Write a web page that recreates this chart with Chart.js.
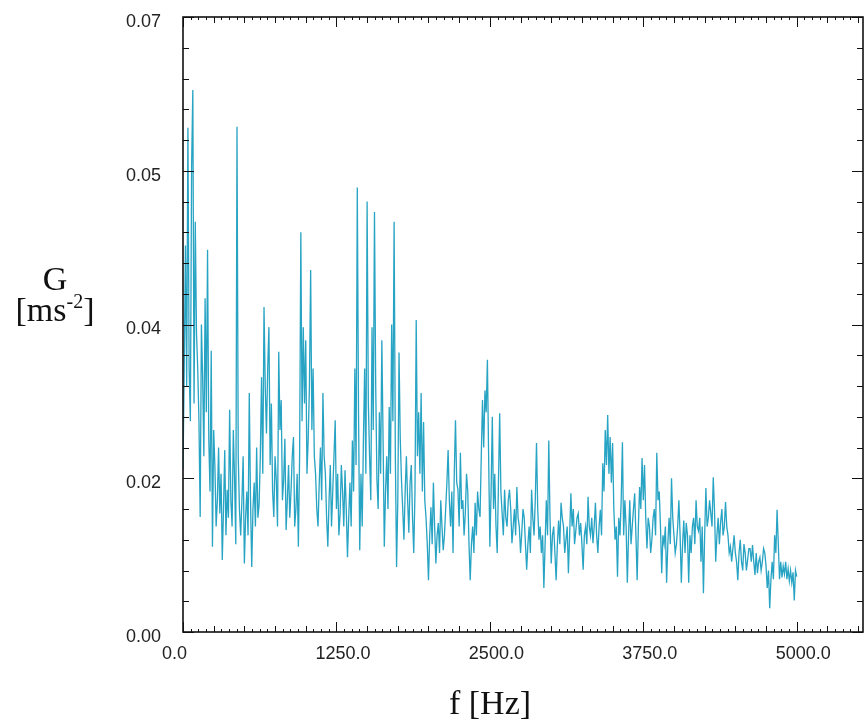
<!DOCTYPE html>
<html>
<head>
<meta charset="utf-8">
<script src="https://cdn.jsdelivr.net/npm/chart.js@4.4.1/dist/chart.umd.min.js"></script>
<style>
    html, body { margin: 0; padding: 0; background: #fff; }
    #wrap { position: relative; width: 865px; height: 723px; overflow: hidden; }
    #spectrum { position: absolute; left: 0; top: 0; }
    .ttl { position: absolute; font-family: "Liberation Serif", "Times New Roman", serif; font-size: 34px; line-height: 34px; color: #111; white-space: nowrap; }
    .ttl sup { font-size: 20px; vertical-align: 13px; line-height: 0; }
</style>
</head>
<body>
<div id="wrap">
    <canvas id="spectrum" width="865" height="723"></canvas>
    <div class="ttl" id="gTitle" style="left:0; width:110px; text-align:center; top:262px;">G</div>
    <div class="ttl" id="gUnit" style="left:0; width:110px; text-align:center; top:293px;">[ms<sup>-2</sup>]</div>
    <div class="ttl" id="fTitle" style="left:390px; width:200px; text-align:center; top:686px;">f [Hz]</div>
</div>
<script>
// frequency step between spectrum lines (Hz)
const freqStep = 10;

// G amplitude, one value per 10 Hz line, 0 .. 5000 Hz
const gValues = [
    0.0185, 0.0300, 0.0440, 0.0280, 0.0574, 0.0300, 0.0240, 0.0529, 0.0617, 0.0260,
    0.0467, 0.0340, 0.0300, 0.0240, 0.0131, 0.0350, 0.0290, 0.0200, 0.0380, 0.0250,
    0.0435, 0.0220, 0.0160, 0.0320, 0.0097, 0.0230, 0.0188, 0.0120, 0.0150, 0.0210,
    0.0135, 0.0180, 0.0082, 0.0140, 0.0207, 0.0110, 0.0162, 0.0130, 0.0253, 0.0150,
    0.0120, 0.0230, 0.0175, 0.0100, 0.0575, 0.0200, 0.0139, 0.0110, 0.0150, 0.0200,
    0.0078, 0.0130, 0.0160, 0.0110, 0.0272, 0.0150, 0.0074, 0.0140, 0.0170, 0.0120,
    0.0210, 0.0130, 0.0145, 0.0200, 0.0290, 0.0180, 0.0370, 0.0280, 0.0226, 0.0300,
    0.0347, 0.0190, 0.0260, 0.0160, 0.0131, 0.0200, 0.0173, 0.0120, 0.0319, 0.0230,
    0.0264, 0.0150, 0.0173, 0.0220, 0.0116, 0.0150, 0.0190, 0.0130, 0.0160, 0.0200,
    0.0222, 0.0120, 0.0140, 0.0180, 0.0097, 0.0200, 0.0455, 0.0240, 0.0347, 0.0260,
    0.0332, 0.0180, 0.0220, 0.0280, 0.0412, 0.0230, 0.0300, 0.0200, 0.0180, 0.0140,
    0.0120, 0.0170, 0.0210, 0.0150, 0.0272, 0.0200, 0.0180, 0.0130, 0.0097, 0.0150,
    0.0190, 0.0120, 0.0160, 0.0200, 0.0241, 0.0140, 0.0180, 0.0110, 0.0135, 0.0190,
    0.0160, 0.0120, 0.0184, 0.0140, 0.0085, 0.0130, 0.0170, 0.0120, 0.0218, 0.0160,
    0.0300, 0.0190, 0.0506, 0.0250, 0.0093, 0.0180, 0.0120, 0.0220, 0.0300, 0.0180,
    0.0490, 0.0260, 0.0200, 0.0150, 0.0347, 0.0230, 0.0478, 0.0280, 0.0173, 0.0140,
    0.0250, 0.0180, 0.0332, 0.0220, 0.0097, 0.0160, 0.0200, 0.0140, 0.0256, 0.0180,
    0.0350, 0.0240, 0.0467, 0.0200, 0.0074, 0.0150, 0.0318, 0.0220, 0.0173, 0.0140,
    0.0105, 0.0160, 0.0200, 0.0150, 0.0113, 0.0170, 0.0190, 0.0130, 0.0090, 0.0160,
    0.0355, 0.0200, 0.0250, 0.0180, 0.0272, 0.0160, 0.0239, 0.0150, 0.0130, 0.0100,
    0.0059, 0.0110, 0.0142, 0.0100, 0.0170, 0.0120, 0.0078, 0.0110, 0.0124, 0.0090,
    0.0150, 0.0120, 0.0093, 0.0110, 0.0140, 0.0170, 0.0207, 0.0150, 0.0120, 0.0160,
    0.0090, 0.0180, 0.0241, 0.0170, 0.0162, 0.0120, 0.0204, 0.0140, 0.0150, 0.0110,
    0.0135, 0.0180, 0.0160, 0.0100, 0.0059, 0.0100, 0.0120, 0.0090, 0.0147, 0.0110,
    0.0160, 0.0140, 0.0131, 0.0200, 0.0264, 0.0210, 0.0275, 0.0250, 0.0310, 0.0200,
    0.0097, 0.0160, 0.0245, 0.0140, 0.0180, 0.0120, 0.0090, 0.0170, 0.0249, 0.0160,
    0.0135, 0.0110, 0.0162, 0.0130, 0.0120, 0.0150, 0.0162, 0.0140, 0.0101, 0.0120,
    0.0140, 0.0110, 0.0165, 0.0130, 0.0120, 0.0090, 0.0113, 0.0140, 0.0130, 0.0100,
    0.0071, 0.0100, 0.0120, 0.0090, 0.0162, 0.0130, 0.0110, 0.0150, 0.0215, 0.0140,
    0.0105, 0.0120, 0.0090, 0.0110, 0.0050, 0.0100, 0.0150, 0.0110, 0.0218, 0.0130,
    0.0078, 0.0110, 0.0120, 0.0090, 0.0059, 0.0100, 0.0127, 0.0100, 0.0147, 0.0130,
    0.0120, 0.0090, 0.0105, 0.0120, 0.0067, 0.0110, 0.0158, 0.0120, 0.0140, 0.0100,
    0.0115, 0.0130, 0.0135, 0.0110, 0.0124, 0.0100, 0.0071, 0.0110, 0.0120, 0.0100,
    0.0154, 0.0120, 0.0110, 0.0130, 0.0101, 0.0120, 0.0147, 0.0110, 0.0090, 0.0120,
    0.0139, 0.0110, 0.0192, 0.0160, 0.0230, 0.0190, 0.0247, 0.0180, 0.0222, 0.0170,
    0.0215, 0.0140, 0.0105, 0.0120, 0.0063, 0.0130, 0.0110, 0.0150, 0.0216, 0.0110,
    0.0150, 0.0120, 0.0056, 0.0110, 0.0150, 0.0100, 0.0120, 0.0140, 0.0158, 0.0110,
    0.0059, 0.0120, 0.0165, 0.0140, 0.0198, 0.0150, 0.0190, 0.0130, 0.0095, 0.0130,
    0.0120, 0.0090, 0.0105, 0.0130, 0.0140, 0.0110, 0.0204, 0.0150, 0.0160, 0.0120,
    0.0067, 0.0110, 0.0100, 0.0120, 0.0056, 0.0100, 0.0130, 0.0100, 0.0175, 0.0130,
    0.0110, 0.0090, 0.0100, 0.0120, 0.0150, 0.0110, 0.0056, 0.0100, 0.0127, 0.0090,
    0.0124, 0.0110, 0.0056, 0.0110, 0.0090, 0.0120, 0.0130, 0.0100, 0.0150, 0.0120,
    0.0115, 0.0130, 0.0080, 0.0120, 0.0044, 0.0110, 0.0164, 0.0120, 0.0130, 0.0150,
    0.0135, 0.0120, 0.0176, 0.0140, 0.0080, 0.0110, 0.0130, 0.0100, 0.0125, 0.0140,
    0.0110, 0.0120, 0.0148, 0.0120, 0.0110, 0.0090, 0.0097, 0.0080, 0.0095, 0.0110,
    0.0090, 0.0080, 0.0059, 0.0090, 0.0105, 0.0080, 0.0070, 0.0100, 0.0090, 0.0070,
    0.0082, 0.0095, 0.0095, 0.0080, 0.0099, 0.0080, 0.0065, 0.0090, 0.0067, 0.0080,
    0.0085, 0.0070, 0.0080, 0.0095, 0.0090, 0.0075, 0.0050, 0.0070, 0.0027, 0.0060,
    0.0080, 0.0060, 0.0110, 0.0090, 0.0139, 0.0100, 0.0060, 0.0080, 0.0062, 0.0075,
    0.0066, 0.0080, 0.0060, 0.0072, 0.0058, 0.0070, 0.0056, 0.0068, 0.0036, 0.0070,
    0.0063
];

// axis ticks as printed on the original
const xTickValues = [0, 1250, 2500, 3750, 5000];
const xTickLabels = ["0.0", "1250.0", "2500.0", "3750.0", "5000.0"];
const yTickValues = [0, 0.0175, 0.035, 0.0525, 0.07];
const yTickLabels = ["0.00", "0.02", "0.04", "0.05", "0.07"];

const points = gValues.map((g, i) => ({x: i * freqStep, y: g}));

// inward ticks on all four sides + box frame
const frameTicks = {
    id: "frameTicks",
    afterDraw(chart) {
        const {ctx, chartArea: a, scales: {x, y}} = chart;
        ctx.save();
        ctx.strokeStyle = "#111";
        ctx.lineWidth = 1;
        ctx.beginPath();
        for (let k = 0; k * 62.5 <= x.max; k++) {
            const px = Math.round(x.getPixelForValue(k * 62.5)) + 0.5;
            const len = k % 20 === 0 ? 10 : (k % 4 === 0 ? 6 : 3);
            ctx.moveTo(px, a.bottom);
            ctx.lineTo(px, a.bottom - len);
            ctx.moveTo(px, a.top);
            ctx.lineTo(px, a.top + len);
        }
        for (let k = 0; k <= 20; k++) {
            const py = Math.round(y.getPixelForValue(k * 0.0035)) + 0.5;
            const len = k % 5 === 0 ? 11 : 6;
            ctx.moveTo(a.left, py);
            ctx.lineTo(a.left + len, py);
            ctx.moveTo(a.right, py);
            ctx.lineTo(a.right - len, py);
        }
        ctx.stroke();
        ctx.lineWidth = 1.6;
        ctx.strokeRect(a.left, a.top, a.right - a.left, a.bottom - a.top);
        ctx.restore();
    }
};

new Chart(document.getElementById("spectrum"), {
    type: "line",
    data: {
        datasets: [{
            data: points,
            borderColor: "#27a3c3",
            borderWidth: 1.3,
            pointRadius: 0,
            tension: 0,
            fill: false,
        }]
    },
    options: {
        responsive: false,
        animation: false,
        devicePixelRatio: 1,
        layout: {padding: {left: 0, right: 2, top: 17, bottom: 0}},
        plugins: {
            legend: {display: false},
            tooltip: {enabled: false},
        },
        scales: {
            x: {
                type: "linear",
                min: 0,
                max: 5540,
                afterBuildTicks: (s) => { s.ticks = xTickValues.map(v => ({value: v})); },
                afterFit: (s) => { s.height = 91; s.paddingLeft = 0; s.paddingRight = 0; },
                grid: {display: false, drawTicks: false},
                border: {display: false},
                ticks: {
                    autoSkip: false,
                    maxRotation: 0,
                    align: "start",
                    labelOffset: -21,
                    padding: 11,
                    color: "#222",
                    font: {family: "'Liberation Sans', Arial, sans-serif", size: 18},
                    callback: (v, i) => xTickLabels[i],
                },
            },
            y: {
                min: 0,
                max: 0.07,
                afterBuildTicks: (s) => { s.ticks = yTickValues.map(v => ({value: v})); },
                afterFit: (s) => { s.width = 183; s.paddingTop = 0; s.paddingBottom = 0; },
                grid: {display: false, drawTicks: false},
                border: {display: false},
                ticks: {
                    padding: 22,
                    labelOffset: 5,
                    color: "#222",
                    font: {family: "'Liberation Sans', Arial, sans-serif", size: 18},
                    callback: (v, i) => yTickLabels[i],
                },
            },
        },
    },
    plugins: [frameTicks],
});
</script>
</body>
</html>
